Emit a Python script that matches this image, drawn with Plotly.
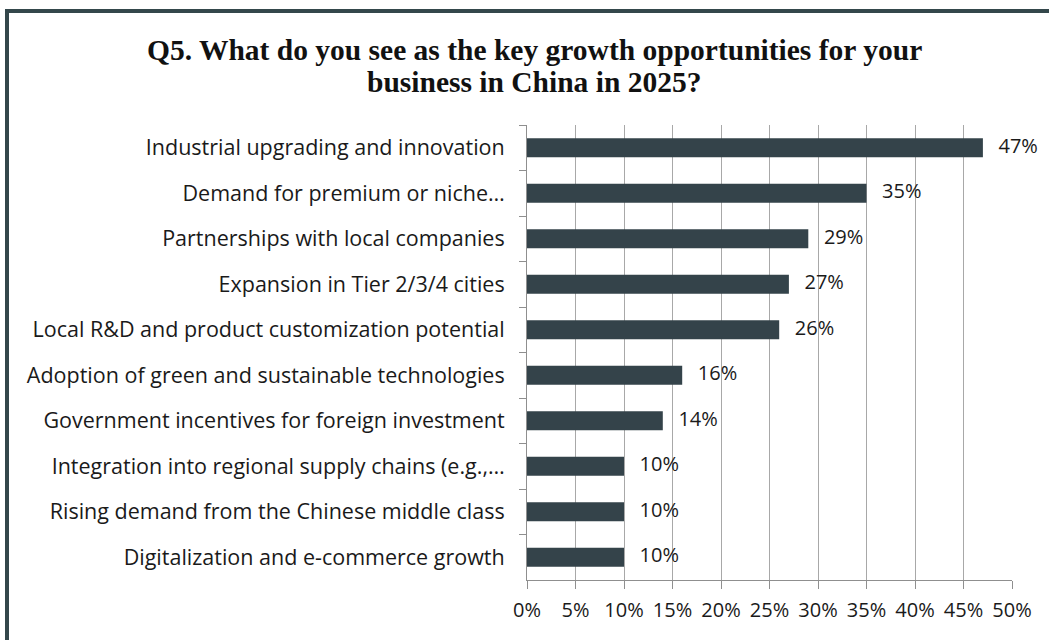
import plotly.graph_objects as go

# Survey answers, top to bottom as they appear on the chart
categories = [
    "Industrial upgrading and innovation",
    "Demand for premium or niche…",
    "Partnerships with local companies",
    "Expansion in Tier 2/3/4 cities",
    "Local R&D and product customization potential",
    "Adoption of green and sustainable technologies",
    "Government incentives for foreign investment",
    "Integration into regional supply chains (e.g.,…",
    "Rising demand from the Chinese middle class",
    "Digitalization and e-commerce growth",
]
shares = [47, 35, 29, 27, 26, 16, 14, 10, 10, 10]
x_ticks = [0, 5, 10, 15, 20, 25, 30, 35, 40, 45, 50]
x_tick_labels = [f"{v}%" for v in x_ticks]

title_lines = [
    "Q5. What do you see as the key growth opportunities for your",
    "business in China in 2025?",
]

W, H = 1049, 640
M_L, M_R, M_T, M_B = 527, 37, 125, 60
PW, PH = W - M_L - M_R, H - M_T - M_B

BAR = "#34434a"
FRAME = "#34474b"
GRID = "#a8a8a8"
AXIS = "#8f8f8f"
TEXT = "#1a1a1a"
LABEL_FONT = "'Open Sans', 'Noto Sans', sans-serif"
TITLE_FONT = "'Liberation Serif', 'Times New Roman', serif"


def px_x(p):
    return (p - M_L) / PW


def px_y(p):
    return (H - M_B - p) / PH


fig = go.Figure()
fig.add_trace(go.Bar(
    x=shares, y=categories, orientation="h",
    marker=dict(color=BAR, line=dict(width=0)),
    hoverinfo="skip",
))
fig.add_trace(go.Scatter(
    x=shares, y=categories, mode="text",
    text=[f"\u00a0\u00a0\u00a0{v}%" for v in shares],
    textposition="middle right",
    textfont=dict(family=LABEL_FONT, size=20, color=TEXT),
    cliponaxis=False, hoverinfo="skip",
))

# Dark frame along the top and left edges
fig.add_shape(type="line", xref="paper", yref="paper",
              x0=px_x(5), x1=px_x(W + 10), y0=px_y(11), y1=px_y(11),
              line=dict(color=FRAME, width=4))
fig.add_shape(type="line", xref="paper", yref="paper",
              x0=px_x(7), x1=px_x(7), y0=px_y(9), y1=px_y(H + 10),
              line=dict(color=FRAME, width=4))

# Two-line bold serif heading
for line, cy in zip(title_lines, [50, 82]):
    fig.add_annotation(
        text=f"<b>{line}</b>", showarrow=False,
        xref="paper", yref="paper", x=px_x(534), y=px_y(cy),
        xanchor="center", yanchor="middle",
        font=dict(family=TITLE_FONT, size=29.5, color="#111111"),
    )

fig.update_layout(
    width=W, height=H,
    margin=dict(l=M_L, r=M_R, t=M_T, b=M_B),
    paper_bgcolor="white", plot_bgcolor="white",
    showlegend=False,
    bargap=0.58,
    xaxis=dict(
        range=[0, 50], tickvals=x_ticks, ticktext=x_tick_labels,
        showgrid=True, gridcolor=GRID, gridwidth=1,
        showline=True, linecolor=AXIS, linewidth=1,
        ticks="outside", ticklen=8, tickcolor=AXIS,
        tickfont=dict(family=LABEL_FONT, size=20, color=TEXT),
        ticklabelstandoff=4,
        zeroline=False, fixedrange=True,
    ),
    yaxis=dict(
        type="category", autorange="reversed",
        tickson="boundaries", ticks="outside", ticklen=7, tickcolor=AXIS,
        showline=True, linecolor=AXIS, linewidth=1, showgrid=False,
        tickfont=dict(family=LABEL_FONT, size=21.5, color=TEXT),
        ticklabelstandoff=17, fixedrange=True,
    ),
)

fig.write_html("out.html")
